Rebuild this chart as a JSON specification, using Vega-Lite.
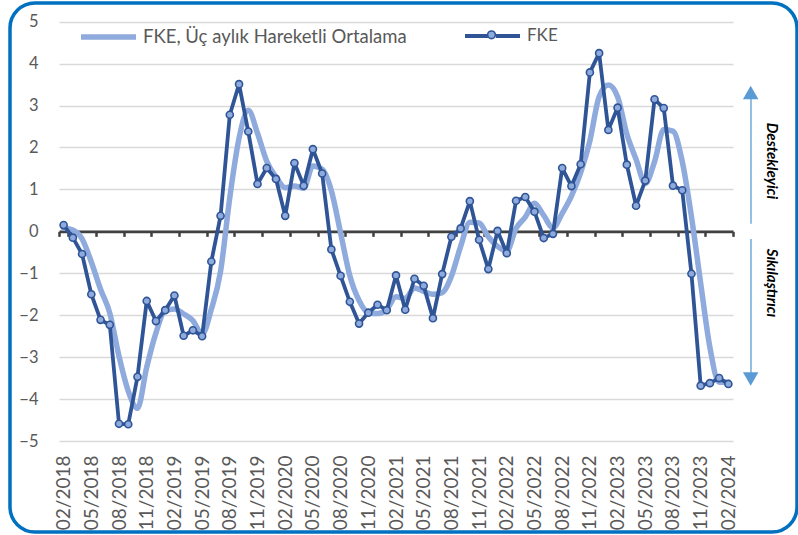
{
  "$schema": "https://vega.github.io/schema/vega-lite/v6.json",
  "width": 787,
  "height": 529,
  "autosize": {"type": "none"},
  "padding": {"left": 10, "top": 3, "right": 1, "bottom": 3},
  "background": "white",
  "config": {
    "view": {"stroke": "#0070C0", "strokeWidth": 3.5, "cornerRadius": 25},
    "font": "Lato",
    "legend": {"padding": 0}
  },
  "datasets": {
    "fke": [
      {"m": "02/2018", "fke": 0.15, "ma": 0.08},
      {"m": "03/2018", "fke": -0.15, "ma": 0.03},
      {"m": "04/2018", "fke": -0.54, "ma": -0.18},
      {"m": "05/2018", "fke": -1.50, "ma": -0.73},
      {"m": "06/2018", "fke": -2.11, "ma": -1.38},
      {"m": "07/2018", "fke": -2.23, "ma": -1.95},
      {"m": "08/2018", "fke": -4.59, "ma": -2.98},
      {"m": "09/2018", "fke": -4.60, "ma": -3.81},
      {"m": "10/2018", "fke": -3.47, "ma": -4.22},
      {"m": "11/2018", "fke": -1.66, "ma": -3.24},
      {"m": "12/2018", "fke": -2.14, "ma": -2.42},
      {"m": "01/2019", "fke": -1.88, "ma": -1.89},
      {"m": "02/2019", "fke": -1.53, "ma": -1.85},
      {"m": "03/2019", "fke": -2.49, "ma": -1.97},
      {"m": "04/2019", "fke": -2.36, "ma": -2.13},
      {"m": "05/2019", "fke": -2.50, "ma": -2.45},
      {"m": "06/2019", "fke": -0.72, "ma": -1.86},
      {"m": "07/2019", "fke": 0.37, "ma": -0.95},
      {"m": "08/2019", "fke": 2.78, "ma": 0.81},
      {"m": "09/2019", "fke": 3.51, "ma": 2.22},
      {"m": "10/2019", "fke": 2.38, "ma": 2.89},
      {"m": "11/2019", "fke": 1.13, "ma": 2.34},
      {"m": "12/2019", "fke": 1.51, "ma": 1.67},
      {"m": "01/2020", "fke": 1.25, "ma": 1.30},
      {"m": "02/2020", "fke": 0.37, "ma": 1.04},
      {"m": "03/2020", "fke": 1.63, "ma": 1.08},
      {"m": "04/2020", "fke": 1.09, "ma": 1.03},
      {"m": "05/2020", "fke": 1.96, "ma": 1.56},
      {"m": "06/2020", "fke": 1.38, "ma": 1.48},
      {"m": "07/2020", "fke": -0.43, "ma": 0.97},
      {"m": "08/2020", "fke": -1.06, "ma": -0.04},
      {"m": "09/2020", "fke": -1.68, "ma": -1.06},
      {"m": "10/2020", "fke": -2.20, "ma": -1.65},
      {"m": "11/2020", "fke": -1.94, "ma": -1.94},
      {"m": "12/2020", "fke": -1.75, "ma": -1.96},
      {"m": "01/2021", "fke": -1.88, "ma": -1.86},
      {"m": "02/2021", "fke": -1.05, "ma": -1.56},
      {"m": "03/2021", "fke": -1.87, "ma": -1.60},
      {"m": "04/2021", "fke": -1.13, "ma": -1.35},
      {"m": "05/2021", "fke": -1.30, "ma": -1.43},
      {"m": "06/2021", "fke": -2.07, "ma": -1.50},
      {"m": "07/2021", "fke": -1.02, "ma": -1.46},
      {"m": "08/2021", "fke": -0.13, "ma": -1.07},
      {"m": "09/2021", "fke": 0.07, "ma": -0.36},
      {"m": "10/2021", "fke": 0.72, "ma": 0.22},
      {"m": "11/2021", "fke": -0.20, "ma": 0.20},
      {"m": "12/2021", "fke": -0.90, "ma": -0.13},
      {"m": "01/2022", "fke": 0.01, "ma": -0.36},
      {"m": "02/2022", "fke": -0.52, "ma": -0.47},
      {"m": "03/2022", "fke": 0.73, "ma": 0.07},
      {"m": "04/2022", "fke": 0.82, "ma": 0.34},
      {"m": "05/2022", "fke": 0.47, "ma": 0.67},
      {"m": "06/2022", "fke": -0.16, "ma": 0.38},
      {"m": "07/2022", "fke": -0.06, "ma": 0.08},
      {"m": "08/2022", "fke": 1.51, "ma": 0.43},
      {"m": "09/2022", "fke": 1.08, "ma": 0.84},
      {"m": "10/2022", "fke": 1.60, "ma": 1.40},
      {"m": "11/2022", "fke": 3.79, "ma": 2.16},
      {"m": "12/2022", "fke": 4.25, "ma": 3.21},
      {"m": "01/2023", "fke": 2.42, "ma": 3.49},
      {"m": "02/2023", "fke": 2.95, "ma": 3.21},
      {"m": "03/2023", "fke": 1.59, "ma": 2.32},
      {"m": "04/2023", "fke": 0.61, "ma": 1.72},
      {"m": "05/2023", "fke": 1.21, "ma": 1.14},
      {"m": "06/2023", "fke": 3.15, "ma": 1.66},
      {"m": "07/2023", "fke": 2.94, "ma": 2.43},
      {"m": "08/2023", "fke": 1.09, "ma": 2.39},
      {"m": "09/2023", "fke": 0.98, "ma": 1.67},
      {"m": "10/2023", "fke": -1.01, "ma": 0.35},
      {"m": "11/2023", "fke": -3.68, "ma": -1.24},
      {"m": "12/2023", "fke": -3.62, "ma": -2.77},
      {"m": "01/2024", "fke": -3.50, "ma": -3.60},
      {"m": "02/2024", "fke": -3.64, "ma": -3.59}
    ],
    "notes": [
      {"label": "Destekleyici", "pos": 1.68},
      {"label": "Sıkılaştırıcı", "pos": -1.23}
    ],
    "arrows": [
      {"dir": "up", "start": 0.18, "end": 3.19, "tip": 3.31},
      {"dir": "down", "start": -0.18, "end": -3.40, "tip": -3.52}
    ]
  },
  "encoding": {
    "x": {
      "field": "m",
      "type": "ordinal",
      "sort": null,
      "scale": {"type": "band", "range": [49, 723], "paddingInner": 0, "paddingOuter": 0},
      "axis": {
        "orient": "bottom",
        "offset": -300.65,
        "title": null,
        "grid": false,
        "values": ["02/2018", "05/2018", "08/2018", "11/2018", "02/2019", "05/2019", "08/2019", "11/2019", "02/2020", "05/2020", "08/2020", "11/2020", "02/2021", "05/2021", "08/2021", "11/2021", "02/2022", "05/2022", "08/2022", "11/2022", "02/2023", "05/2023", "08/2023", "11/2023", "02/2024"],
        "tickBand": "extent",
        "domainColor": "#404040",
        "domainWidth": 2.8,
        "tickColor": "#404040",
        "tickWidth": 2.5,
        "tickSize": 5,
        "labelAngle": -90,
        "labelAlign": "right",
        "labelBaseline": "middle",
        "labelPadding": 218.6,
        "labelFont": "Lato",
        "labelFontSize": 19,
        "labelColor": "#595959",
        "labelOverlap": false,
        "labelFlush": false
      }
    }
  },
  "layer": [
    {
      "data": {"name": "fke"},
      "mark": {"type": "line", "strokeWidth": 5.5, "interpolate": "monotone", "strokeCap": "round", "strokeJoin": "round"},
      "encoding": {
        "y": {
          "field": "ma",
          "type": "quantitative",
          "scale": {"domain": [-5, 5], "range": [438, 18.7], "nice": false, "zero": false},
          "axis": {
            "orient": "left",
            "offset": -49,
            "title": null,
            "values": [-5, -4, -3, -2, -1, 0, 1, 2, 3, 4, 5],
            "domain": false,
            "ticks": false,
            "labelPadding": 21,
            "labelFont": "Lato",
            "labelFontSize": 16.5,
            "labelColor": "#595959",
            "grid": true,
            "gridColor": "#D9D9D9",
            "gridWidth": 1.3
          }
        },
        "color": {
          "datum": "FKE, Üç aylık Hareketli Ortalama",
          "type": "nominal",
          "scale": {"range": ["#8FAADC"]},
          "legend": {
            "orient": "none",
            "legendX": 68,
            "legendY": 3.5,
            "title": null,
            "symbolType": "M-1,0H1",
            "symbolSize": 3025,
            "symbolStrokeWidth": 5.5,
            "labelFont": "Lato",
            "labelFontSize": 18.5,
            "labelColor": "#595959",
            "labelLimit": 0,
            "labelOffset": 4,
            "zindex": 1
          }
        }
      }
    },
    {
      "data": {"name": "fke"},
      "mark": {"type": "line", "strokeWidth": 3.8, "strokeJoin": "round"},
      "encoding": {
        "y": {"field": "fke", "type": "quantitative"},
        "stroke": {
          "datum": "FKE",
          "type": "nominal",
          "scale": {"range": ["#2F5597"]},
          "legend": {
            "orient": "none",
            "legendX": 453,
            "legendY": 3.5,
            "title": null,
            "symbolType": "M-1,0H-0.12M0.12,0H1",
            "symbolSize": 3025,
            "symbolStrokeWidth": 3.8,
            "labelFont": "Lato",
            "labelFontSize": 17,
            "labelColor": "#595959",
            "labelLimit": 0,
            "labelOffset": 5,
            "zindex": 1
          }
        }
      }
    },
    {
      "data": {"name": "fke"},
      "mark": {"type": "circle", "size": 50, "stroke": "#2F5597", "strokeWidth": 1.6, "opacity": 1},
      "encoding": {
        "y": {"field": "fke", "type": "quantitative"},
        "fill": {
          "datum": "FKE marker",
          "type": "nominal",
          "scale": {"range": ["#8FAADC"]},
          "legend": {
            "orient": "none",
            "legendX": 476.5,
            "legendY": 26.8,
            "title": null,
            "symbolType": "circle",
            "symbolSize": 60,
            "symbolStrokeColor": "#2F5597",
            "symbolStrokeWidth": 1.6,
            "symbolOpacity": 1,
            "labelExpr": "''",
            "labelFontSize": 6,
            "zindex": 3
          }
        }
      }
    },
    {
      "data": {"name": "arrows"},
      "mark": {"type": "rule", "color": "#5B9BD5", "strokeWidth": 1.3, "xOffset": 22.6},
      "encoding": {
        "x": {"datum": "02/2024", "type": "ordinal"},
        "y": {"field": "start", "type": "quantitative"},
        "y2": {"field": "end"}
      }
    },
    {
      "data": {"name": "arrows"},
      "mark": {"type": "point", "filled": true, "color": "#5B9BD5", "opacity": 1, "size": 240, "xOffset": 22.3},
      "encoding": {
        "x": {"datum": "02/2024", "type": "ordinal"},
        "y": {"field": "tip", "type": "quantitative"},
        "shape": {
          "field": "dir",
          "type": "nominal",
          "scale": {"domain": ["up", "down"], "range": ["triangle-up", "triangle-down"]},
          "legend": null
        }
      }
    },
    {
      "data": {"name": "notes"},
      "mark": {"type": "text", "angle": 90, "font": "Lato", "fontSize": 15, "fontWeight": "bold", "fontStyle": "italic", "color": "#000000", "align": "center", "baseline": "middle", "xOffset": 43.6},
      "encoding": {
        "x": {"datum": "02/2024", "type": "ordinal"},
        "y": {"field": "pos", "type": "quantitative"},
        "text": {"field": "label"}
      }
    }
  ]
}
